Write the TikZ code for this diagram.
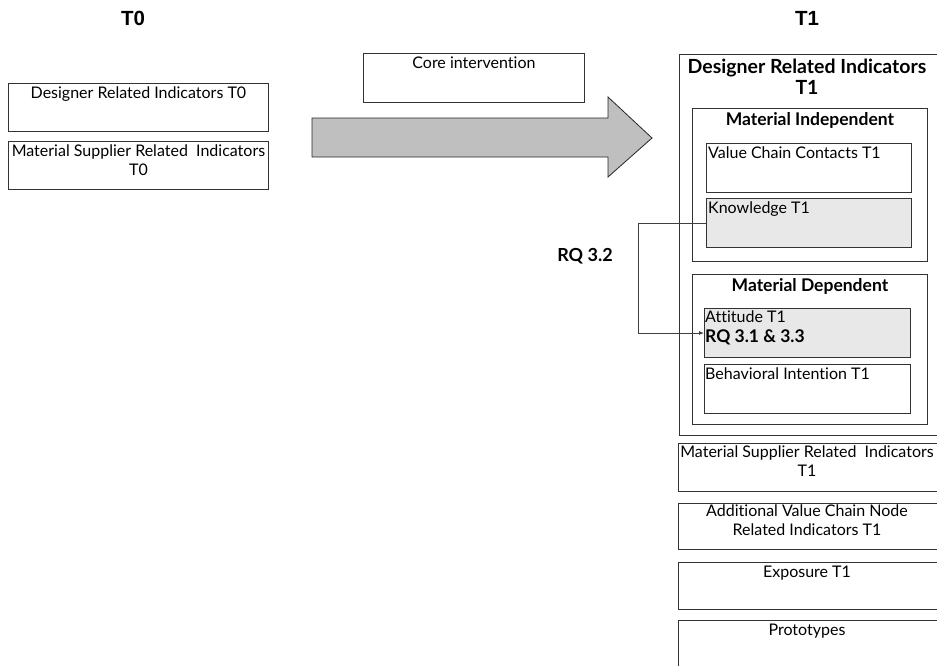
\documentclass[tikz,border=0pt]{standalone}
\usepackage{fontspec}
\setmainfont{Lato}[Ligatures=NoCommon]
\newfontfamily\hdrfont{Liberation Sans}
\usetikzlibrary{arrows.meta}
\tikzset{
  box/.style={draw=black!80, line width=0.9pt, inner sep=0pt, anchor=north west},
  graybox/.style={box, fill=black!9},
  txt/.style={inner sep=0pt, font=\fontsize{16}{18.5}\selectfont, align=center},
  ltxt/.style={inner sep=0pt, font=\fontsize{16}{20}\selectfont, align=left, anchor=north west},
  btxt/.style={inner sep=0pt, font=\fontsize{17.5}{21}\selectfont\bfseries, align=center},
  ttxt/.style={inner sep=0pt, font=\fontsize{19.5}{21}\selectfont\bfseries, align=center},
  hdr/.style={inner sep=0pt, font=\hdrfont\fontsize{20.5}{24}\selectfont\bfseries},
  conn/.style={draw=black!75, line width=0.8pt}
}
\newcommand{\bx}[6]{\node[#1, minimum width=#4pt-#2pt, minimum height=#5pt-#3pt] (#6) at (#2,#3) {};}
\begin{document}
\begin{tikzpicture}[x=1pt,y=-1pt]
\useasboundingbox (0,0) rectangle (937,665);
\clip (0,0) rectangle (937,665);
% headers
\node[hdr] (t0) at (133,18) {T0};
\node[hdr] (t1) at (807,18) {T1};
% left boxes
\bx{box}{8}{83}{268}{131}{d0}
\node[txt, anchor=north] (d0t) at ([yshift=-4pt]d0.north) {Designer Related Indicators T0};
\bx{box}{8}{141}{268}{189}{m0}
\node[txt, anchor=north] (m0t) at ([yshift=-4pt]m0.north) {Material Supplier Related\ \ Indicators\\T0};
% core intervention
\bx{box}{363}{53}{584}{102}{ci}
\node[txt, anchor=north] (cit) at ([yshift=-4pt]ci.north) {Core intervention};
% big arrow
\draw[draw=black!85, line width=0.8pt, fill=black!25] (312,118) -- (608,118) -- (608,97) -- (652,138) -- (608,177) -- (608,157) -- (312,157) -- cycle;
% right outer
\bx{box}{679}{54}{945}{435}{dr}
\node[ttxt, anchor=north] (drt) at (807,59) {Designer Related Indicators\\T1};
\bx{box}{692}{108}{927}{261}{mi}
\node[btxt, anchor=north] (mit) at ([yshift=-4pt]mi.north) {Material Independent};
\bx{box}{706}{143}{911}{192}{vc}
\node[ltxt] (vct) at ([xshift=2pt,yshift=-4pt]vc.north west) {Value Chain Contacts T1};
\bx{graybox}{706}{198}{911}{247}{kn}
\node[ltxt] (knt) at ([xshift=2pt,yshift=-4pt]kn.north west) {Knowledge T1};
\bx{box}{692}{274}{927}{424}{md}
\node[btxt, anchor=north] (mdt) at ([yshift=-4pt]md.north) {Material Dependent};
\bx{graybox}{704}{308}{910}{357}{at}
\node[ltxt] (att) at ([xshift=1pt,yshift=-3pt]at.north west) {Attitude T1\\\fontsize{17.5}{20}\selectfont\textbf{RQ 3.1 \& 3.3}};
\bx{box}{704}{364}{910}{413}{bi}
\node[ltxt] (bit) at ([xshift=1pt,yshift=-4pt]bi.north west) {Behavioral Intention T1};
% lower right boxes
\bx{box}{678}{443}{945}{491}{ms}
\node[txt, anchor=north] (mst) at (807,446) {Material Supplier Related\ \ Indicators\\T1};
\bx{box}{678}{503}{945}{549}{av}
\node[txt, anchor=north] (avt) at (807,505) {Additional Value Chain Node\\Related Indicators T1};
\bx{box}{678}{562}{945}{609}{ex}
\node[txt, anchor=north] (ext) at (807,566) {Exposure T1};
\bx{box}{678}{620}{945}{680}{pr}
\node[txt, anchor=north] (prt) at (807,624) {Prototypes};
% connector
\coordinate (c1) at (638,223);
\coordinate (c2) at (638,333);
\draw[conn, -{Latex[length=5pt,width=4pt]}] (kn.west |- c1) -- (c1) -- (c2) -- (at.west |- c2);
\node[btxt, font=\fontsize{18}{21}\selectfont\bfseries] (rq) at (585,256) {RQ 3.2};
\end{tikzpicture}
\end{document}
